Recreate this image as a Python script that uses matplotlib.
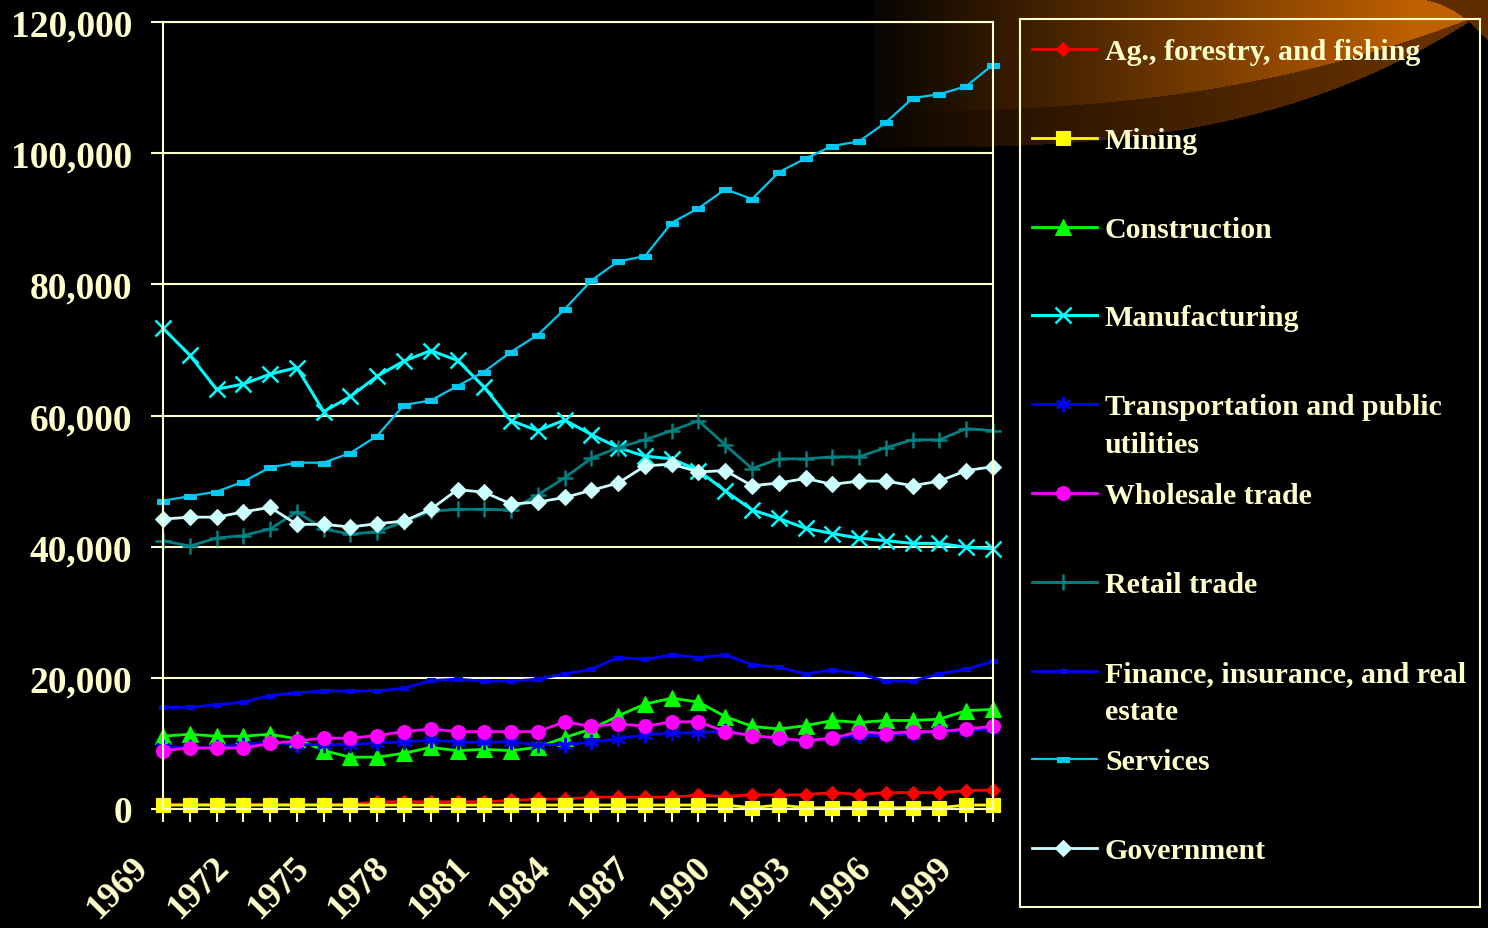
import numpy as np
import matplotlib
matplotlib.use("Agg")
import matplotlib.pyplot as plt
from matplotlib.path import Path
from matplotlib.transforms import ScaledTranslation

years = list(range(1969, 2001))

ag = [700, 700, 700, 700, 700, 700, 700, 700, 1100, 1100, 1100, 1100, 1100, 1300, 1500, 1500,
      1800, 1800, 1800, 1800, 2100, 1900, 2200, 2100, 2200, 2500, 2200, 2500, 2500, 2500, 2800, 2900]
mining = [600, 600, 600, 600, 600, 600, 600, 600, 600, 600, 600, 600, 600, 600, 600, 600,
          600, 600, 600, 600, 600, 600, 200, 600, 200, 200, 200, 200, 200, 200, 600, 600]
construction = [11100, 11400, 11100, 11100, 11400, 10700, 8900, 7900, 7900, 8500, 9400, 8900, 9100, 8900, 9400, 10900,
                12200, 14200, 16000, 16900, 16300, 14100, 12600, 12200, 12700, 13500, 13200, 13500, 13500, 13700, 15000, 15200]
manufacturing = [73300, 69200, 64000, 64800, 66300, 67300, 60600, 62900, 66000, 68300, 69900, 68400, 64300, 59200, 57700, 59300,
                 57100, 55100, 53800, 53400, 51600, 48500, 45600, 44300, 42800, 42000, 41300, 40900, 40500, 40500, 39900, 39700]
transport = [9400, 9400, 9400, 9800, 10200, 9800, 9800, 9800, 10100, 10200, 10500, 10200, 10200, 10200, 9800, 9800,
             10200, 10700, 11300, 11600, 11600, 11900, 11200, 10700, 10400, 10800, 11200, 11200, 11500, 11900, 11900, 12300]
wholesale = [8900, 9300, 9300, 9300, 10000, 10400, 10800, 10800, 11200, 11800, 12200, 11800, 11800, 11800, 11800, 13300,
             12600, 13000, 12600, 13300, 13300, 11800, 11200, 10800, 10400, 10800, 11800, 11500, 11800, 11800, 12200, 12600]
retail = [40900, 40100, 41300, 41700, 42700, 45300, 42700, 41900, 42300, 43800, 45400, 45700, 45700, 45600, 47900, 50500,
          53500, 55100, 56300, 57700, 59200, 55500, 51900, 53400, 53400, 53700, 53700, 55100, 56300, 56300, 58000, 57700]
finance = [15500, 15500, 15900, 16300, 17300, 17700, 18000, 18000, 18000, 18400, 19600, 19800, 19500, 19500, 19800, 20600,
           21300, 23100, 22800, 23500, 23100, 23500, 22000, 21600, 20600, 21200, 20600, 19500, 19500, 20600, 21300, 22500]
services = [47000, 47700, 48400, 49900, 52100, 52800, 52800, 54300, 56900, 61600, 62300, 64500, 66700, 69700, 72300, 76200,
            80600, 83500, 84300, 89400, 91600, 94500, 93000, 97100, 99200, 101100, 101800, 104700, 108400, 109000, 110200, 113500]
government = [44200, 44500, 44500, 45300, 46000, 43400, 43400, 43000, 43500, 43900, 45700, 48700, 48300, 46500, 46800, 47500,
              48600, 49700, 52300, 52600, 51400, 51600, 49300, 49700, 50400, 49500, 50000, 50000, 49300, 50000, 51600, 52200]

labels = ["Ag., forestry, and fishing", "Mining", "Construction", "Manufacturing",
          "Transportation and public\nutilities", "Wholesale trade", "Retail trade",
          "Finance, insurance, and real\nestate", "Services", "Government"]

CREAM = "#FFFFCC"
FONT = "Liberation Serif"

# marker shapes
small_bar = Path([(-1, -0.5), (1, -0.5), (1, 0.5), (-1, 0.5), (-1, -0.5)],
                 [Path.MOVETO, Path.LINETO, Path.LINETO, Path.LINETO, Path.CLOSEPOLY])
wide_bar = Path([(-1, -0.4), (1, -0.4), (1, 0.4), (-1, 0.4), (-1, -0.4)],
                [Path.MOVETO, Path.LINETO, Path.LINETO, Path.LINETO, Path.CLOSEPOLY])

series = [ag, mining, construction, manufacturing, transport, wholesale, retail, finance, services, government]
styles = [
    dict(color="#FF0000", marker="D", ms=7, lw=2),
    dict(color="#FFFF00", marker="s", ms=10, lw=2),
    dict(color="#00FF00", marker="^", ms=11, lw=2),
    dict(color="#00FFFF", marker="x", ms=12, lw=2.2, mew=1.8),
    dict(color="#0000FF", marker=(6, 2, 0), ms=11, lw=2, mew=1.6),
    dict(color="#FF00FF", marker="o", ms=10, lw=2),
    dict(color="#008080", marker="+", ms=12, lw=2, mew=1.8),
    dict(color="#0000FF", marker=small_bar, ms=6, lw=2),
    dict(color="#00C8F0", marker=wide_bar, ms=9, lw=1.6),
    dict(color="#CCFFFF", marker="D", ms=8, lw=2),
]

W, H = 1488, 929
fig = plt.figure(figsize=(W / 100, H / 100), dpi=100, facecolor="black")

# background glow, top right corner
yy, xx = np.mgrid[0:H, 0:W].astype(float)
t = np.clip((xx - 870) / (W - 870), 0, 1)
g = np.clip((xx - 880) / 540, 0, 1)
outer = 148 - 138 * t ** 3
inner = 112 - 100 * t ** 2.5
img = np.zeros((H, W, 3))
band = (yy < outer) & (xx > 872)
bright = (yy < inner) & (xx > 872)
img[band] = np.array([0.40, 0.19, 0.0])[None, :] * (0.10 + 0.90 * g[band] ** 0.8)[:, None]
img[bright] = np.array([0.76, 0.38, 0.0])[None, :] * (0.05 + 0.95 * g[bright])[:, None]
corner = (xx > 1415) & (yy < 42 * np.clip((xx - 1415) / 73, 0, 1) ** 2)
img[corner] = [0.38, 0.18, 0.0]
bg = fig.add_axes([0, 0, 1, 1], zorder=0)
bg.imshow(img, extent=(0, W, H, 0), aspect="auto")
bg.axis("off")

# main chart
ax = fig.add_axes([163 / W, 1 - 810 / H, 830 / W, 787 / H], zorder=1)
ax.set_facecolor("none")
x = np.arange(len(years))
for vals, st in zip(series, styles):
    ax.plot(x, vals, color=st["color"], lw=st["lw"], marker=st["marker"], ms=st["ms"],
            mfc=st["color"], mec=st["color"], mew=st.get("mew", 0.8), clip_on=False)

ax.set_xlim(0, len(years) - 1)
ax.set_ylim(0, 120000)
ax.set_yticks(range(0, 120001, 20000))
ax.set_yticklabels([f"{v:,}" for v in range(0, 120001, 20000)])
ax.set_xticks(x)
ax.set_xticklabels([str(y) if (y - 1969) % 3 == 0 else "" for y in years], rotation=45, ha="right")
ax.grid(axis="y", color=CREAM, lw=1.5)
ax.set_axisbelow(True)
for s in ax.spines.values():
    s.set_color(CREAM)
    s.set_linewidth(1.5)
ax.tick_params(axis="y", colors=CREAM, length=9, width=1.5, pad=13)
ax.tick_params(axis="x", colors=CREAM, length=9, width=1.5, pad=21)
for lbl in ax.get_yticklabels():
    lbl.set_fontsize(27)
for lbl in ax.get_xticklabels():
    lbl.set_fontsize(26)
for lbl in ax.get_yticklabels() + ax.get_xticklabels():
    lbl.set_fontfamily(FONT)
    lbl.set_fontweight("bold")
    lbl.set_color(CREAM)
shift = ScaledTranslation(-0.08, 0, fig.dpi_scale_trans)
for lbl in ax.get_xticklabels():
    lbl.set_transform(lbl.get_transform() + shift)

# legend box
lg = fig.add_axes([1020 / W, 1 - 908 / H, 460 / W, 888 / H], zorder=2)
lg.set_facecolor("none")
lg.set_xlim(1020, 1480)
lg.set_ylim(908, 20)
lg.set_xticks([])
lg.set_yticks([])
for s in lg.spines.values():
    s.set_color(CREAM)
    s.set_linewidth(1.5)
for i, (lab, st) in enumerate(zip(labels, styles)):
    yc = 50 + i * 88.8
    lg.plot([1032, 1097], [yc, yc], color=st["color"], lw=st["lw"])
    lg.plot([1063], [yc], color=st["color"], marker=st["marker"], ms=st["ms"],
            mfc=st["color"], mec=st["color"], mew=st.get("mew", 0.8), ls="none")
    for k, line in enumerate(lab.split("\n")):
        lg.text(1105, yc + 10 + k * 38, line, color=CREAM, fontsize=21.5,
                fontfamily=FONT, fontweight="bold", va="baseline", ha="left")

fig.savefig("out.png", dpi=100, facecolor="black")
